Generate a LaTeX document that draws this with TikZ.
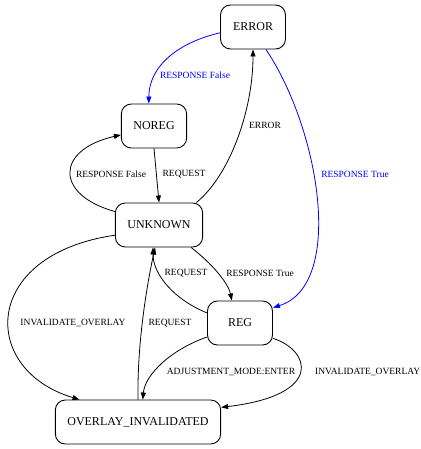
\documentclass[tikz,border=0pt]{standalone}
\usepackage{fontspec}
\setmainfont{Liberation Serif}
\usepackage{xcolor}
\definecolor{edgeBlack}{HTML}{000000}
\definecolor{edgeBlue}{HTML}{0000FF}
\usetikzlibrary{arrows.meta}

\begin{document}
\begin{tikzpicture}[x=1pt, y=-1pt,
    state/.style={draw, line width=0.9pt, rounded corners=10pt, minimum height=44pt,
      minimum width=65pt, inner xsep=12pt, font=\fontsize{12}{14}\selectfont},
    trans/.style={edgeBlack, line width=0.8pt, -{Triangle[length=7pt, width=5pt]}},
    resp/.style={trans, edgeBlue},
    lbl/.style={inner sep=0pt, font=\fontsize{9.5}{11}\selectfont}]
  \useasboundingbox (0,0) rectangle (420,449);
  \node[state] (ERROR) at (253,27) {ERROR};
  \node[state] (NOREG) at (154,126) {NOREG};
  \node[state] (UNKNOWN) at (159,225) {UNKNOWN};
  \node[state] (REG) at (240,323) {REG};
  \node[state] (OVR) at (138,422) {OVERLAY\_INVALIDATED};
  \draw[resp] (ERROR.190) .. controls (180,42) and (149,65) .. (NOREG.103);
  \draw[resp] (ERROR.300) .. controls (320,130) and (345,285) .. (REG.25);
  \draw[trans] (UNKNOWN.31) .. controls (230,175) and (253,110) .. (ERROR.south);
  \draw[trans] (NOREG.south) -- (UNKNOWN.north);
  \draw[trans] (UNKNOWN.163) .. controls (55,195) and (55,150) .. (NOREG.195);
  \draw[trans] (UNKNOWN.325) .. controls (210,262) and (228,282) .. (REG.110);
  \draw[trans] (REG.163) .. controls (175,300) and (153,275) .. (UNKNOWN.255);
  \draw[trans] (UNKNOWN.193) .. controls (-20,255) and (-20,370) .. (OVR.159);
  \draw[trans] (OVR.north) .. controls (137,340) and (148,280) .. (UNKNOWN.260);
  \draw[trans] (REG.203) .. controls (170,350) and (145,375) .. (OVR.78);
  \draw[trans] (REG.335) .. controls (310,350) and (325,395) .. (OVR.10);
  \node[lbl, edgeBlue] (l1) at (195,75) {RESPONSE False};
  \node[lbl, edgeBlue] (l2) at (355,174) {RESPONSE True};
  \node[lbl] (l3) at (265,125) {ERROR};
  \node[lbl] (l4) at (184,174) {REQUEST};
  \node[lbl] (l5) at (111,174) {RESPONSE False};
  \node[lbl] (l6) at (260,273) {RESPONSE True};
  \node[lbl] (l7) at (186,273) {REQUEST};
  \node[lbl] (l8) at (73,323) {INVALIDATE\_OVERLAY};
  \node[lbl] (l9) at (170,323) {REQUEST};
  \node[lbl] (l10) at (231,372) {ADJUSTMENT\_MODE:ENTER};
  \node[lbl, anchor=west] (l11) at (315,372) {INVALIDATE\_OVERLAY};
\end{tikzpicture}
\end{document}
